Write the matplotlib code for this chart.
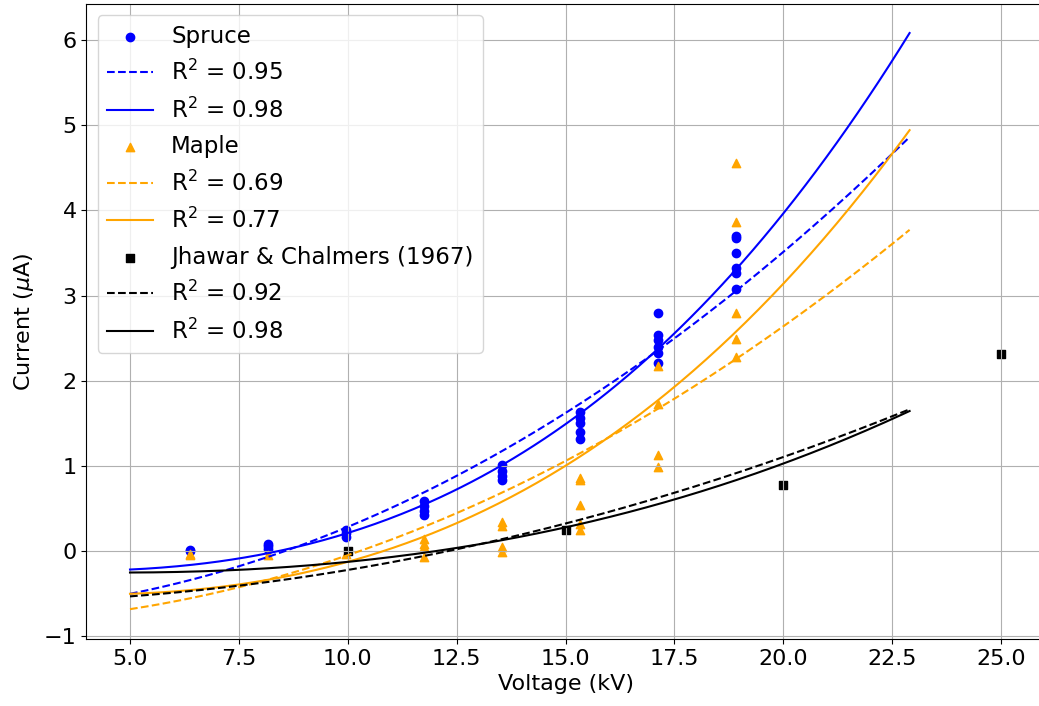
import numpy as np
import matplotlib
matplotlib.use("Agg")
import matplotlib.pyplot as plt

# measured points
spruce_kv = [6.38, 6.38,
             8.17, 8.17, 8.17,
             9.96, 9.96, 9.96,
             11.75, 11.75, 11.75, 11.75,
             13.54, 13.54, 13.54, 13.54,
             15.33, 15.33, 15.33, 15.33, 15.33,
             17.12, 17.12, 17.12, 17.12, 17.12, 17.12,
             18.91, 18.91, 18.91, 18.91, 18.91, 18.91]
spruce_ua = [0.01, 0.00,
             0.09, 0.06, 0.03,
             0.25, 0.21, 0.17,
             0.59, 0.53, 0.47, 0.42,
             1.01, 0.94, 0.88, 0.83,
             1.63, 1.56, 1.50, 1.40, 1.32,
             2.79, 2.54, 2.48, 2.40, 2.33, 2.21,
             3.70, 3.67, 3.50, 3.32, 3.27, 3.08]

maple_kv = [6.38, 6.38,
            8.17,
            9.96,
            11.75, 11.75, 11.75, 11.75,
            13.54, 13.54, 13.54, 13.54,
            15.33, 15.33, 15.33, 15.33, 15.33,
            17.12, 17.12, 17.12, 17.12,
            18.91, 18.91, 18.91, 18.91, 18.91]
maple_ua = [-0.03, -0.05,
            -0.05,
            -0.03,
            0.14, 0.09, 0.05, -0.07,
            0.34, 0.29, 0.05, -0.01,
            0.86, 0.83, 0.54, 0.32, 0.25,
            2.17, 1.73, 1.13, 0.99,
            4.56, 3.86, 2.79, 2.49, 2.28]

jc_kv = [10.0, 15.0, 20.0, 25.0]
jc_ua = [0.00, 0.25, 0.78, 2.31]

# fit coefficients, highest power first, in (V - V0)
V0 = 5.0
V_END = 22.9
spruce_quad = [0.01104, 0.1018, -0.50]
spruce_cubic = [0.0004613, 0.01005, 0.02397, -0.215]
maple_quad = [0.00946, 0.0793, -0.68]
maple_cubic = [0.0003429, 0.009882, 0.01715, -0.50]
jc_quad = [0.0047, 0.0385, -0.53]
jc_cubic = [0.00008464, 0.00433, 0.001234, -0.25]

spruce_r2 = [0.95, 0.98]
maple_r2 = [0.69, 0.77]
jc_r2 = [0.92, 0.98]

plt.rcParams['font.size'] = 16

fig = plt.figure(figsize=(10.39, 7.06), dpi=100)
ax = fig.add_axes([0.0832, 0.0949, 0.9222, 0.8994])

v = np.linspace(V0, V_END, 300)

groups = [
    ("Spruce", spruce_kv, spruce_ua, spruce_quad, spruce_cubic, spruce_r2, "blue", "o"),
    ("Maple", maple_kv, maple_ua, maple_quad, maple_cubic, maple_r2, "orange", "^"),
    ("Jhawar & Chalmers (1967)", jc_kv, jc_ua, jc_quad, jc_cubic, jc_r2, "black", "s"),
]

for name, kv, ua, quad, cubic, r2, col, mk in groups:
    ax.scatter(kv, ua, color=col, marker=mk, label=name)
    ax.plot(v, np.polyval(quad, v - V0), "--", color=col,
            label=f"R$^2$ = {r2[0]:.2f}")
    ax.plot(v, np.polyval(cubic, v - V0), "-", color=col,
            label=f"R$^2$ = {r2[1]:.2f}")

ax.set_xlim(4.0, 26.0)
ax.set_ylim(-1.03, 6.42)
ax.set_xticks(np.arange(5.0, 25.1, 2.5))
ax.set_yticks(range(-1, 7))
ax.set_xlabel("Voltage (kV)")
ax.set_ylabel(r"Current ($\mu$A)", labelpad=6)
ax.grid(True)
ax.legend(loc="upper left", fontsize=16.5, labelspacing=0.54)

fig.savefig("out.png", dpi=100)
